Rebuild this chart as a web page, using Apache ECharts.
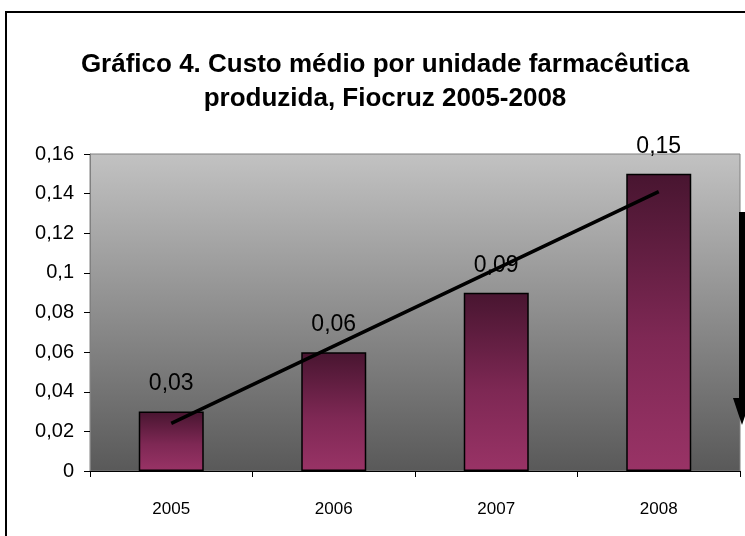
<!DOCTYPE html>
<html>
<head>
<meta charset="utf-8">
<script src="https://cdn.jsdelivr.net/npm/echarts@6/dist/echarts.min.js"></script>
<style>
  html, body { margin: 0; padding: 0; background: #fff; }
  #myChart { width: 745px; height: 536px; }
</style>
</head>
<body>
<div id="myChart"></div>
<script>
// dados
const anos = ['2005', '2006', '2007', '2008']
const custoMedio = [0.03, 0.06, 0.09, 0.15]
const tendencia = [0.024, 0.063, 0.102, 0.141]
const eixoY = { min: 0, max: 0.16, interval: 0.02 }

const fonte = 'Arial, "Liberation Sans", sans-serif'

// 0.1 -> "0,1"
function virgula (v) {
  return String(+v.toFixed(2)).replace('.', ',')
}

let myChart = echarts.init(document.getElementById('myChart'))
myChart.setOption({
  animation: false,
  backgroundColor: '#fff',
  graphic: [
    // moldura do gráfico (só aparecem a esquerda e o topo)
    {
      type: 'rect',
      shape: { x: 6, y: 12, width: 800, height: 600 },
      style: { fill: 'none', stroke: '#000', lineWidth: 2 },
      z: 100
    },
    {
      type: 'text',
      x: 385,
      y: 52,
      style: {
        text: 'Gráfico 4. Custo médio por unidade farmacêutica',
        font: 'bold 26px ' + fonte,
        fill: '#000',
        align: 'center',
        verticalAlign: 'alphabetic'
      }
    },
    {
      type: 'text',
      x: 385,
      y: 86,
      style: {
        text: 'produzida, Fiocruz 2005-2008',
        font: 'bold 26px ' + fonte,
        fill: '#000',
        align: 'center',
        verticalAlign: 'alphabetic'
      }
    },
    // seta cortada na borda direita
    {
      type: 'rect',
      shape: { x: 739, y: 212, width: 6, height: 188 },
      style: { fill: '#000' },
      z: 100
    },
    {
      type: 'polygon',
      shape: { points: [[733, 398], [751, 398], [742, 425]] },
      style: { fill: '#000' },
      z: 100
    }
  ],
  grid: {
    left: 90,
    right: 5,
    top: 154,
    bottom: 65,
    show: true,
    borderColor: '#808080',
    borderWidth: 1,
    backgroundColor: {
      type: 'linear', x: 0, y: 0, x2: 0, y2: 1,
      colorStops: [
        { offset: 0, color: '#c2c2c2' },
        { offset: 1, color: '#595959' }
      ]
    }
  },
  xAxis: {
    type: 'category',
    data: anos,
    axisLine: { lineStyle: { color: '#000', width: 1 } },
    axisTick: { show: true, length: 6, lineStyle: { color: '#000' } },
    axisLabel: { color: '#000', fontSize: 17, fontFamily: fonte, margin: 30 }
  },
  yAxis: {
    type: 'value',
    min: eixoY.min,
    max: eixoY.max,
    interval: eixoY.interval,
    splitLine: { show: false },
    axisLine: { show: true, lineStyle: { color: '#808080' } },
    axisTick: { show: true, length: 6, lineStyle: { color: '#000' } },
    axisLabel: {
      color: '#000',
      fontSize: 20,
      fontFamily: fonte,
      margin: 16,
      formatter: virgula
    }
  },
  series: [
    {
      name: 'Custo médio',
      type: 'bar',
      data: custoMedio,
      barWidth: 65,
      itemStyle: {
        borderColor: '#000',
        borderWidth: 1.5,
        color: {
          type: 'linear', x: 0, y: 0, x2: 0, y2: 1,
          colorStops: [
            { offset: 0, color: '#481530' },
            { offset: 0.55, color: '#7e2854' },
            { offset: 1, color: '#993366' }
          ]
        }
      },
      label: {
        show: true,
        position: 'top',
        distance: 16,
        color: '#000',
        fontSize: 23,
        fontFamily: fonte,
        formatter: p => virgula(p.value)
      }
    },
    {
      name: 'Tendência',
      type: 'line',
      data: tendencia,
      symbol: 'none',
      z: 5,
      lineStyle: { color: '#000', width: 3.5 }
    }
  ]
}, true)
</script>
</body>
</html>
